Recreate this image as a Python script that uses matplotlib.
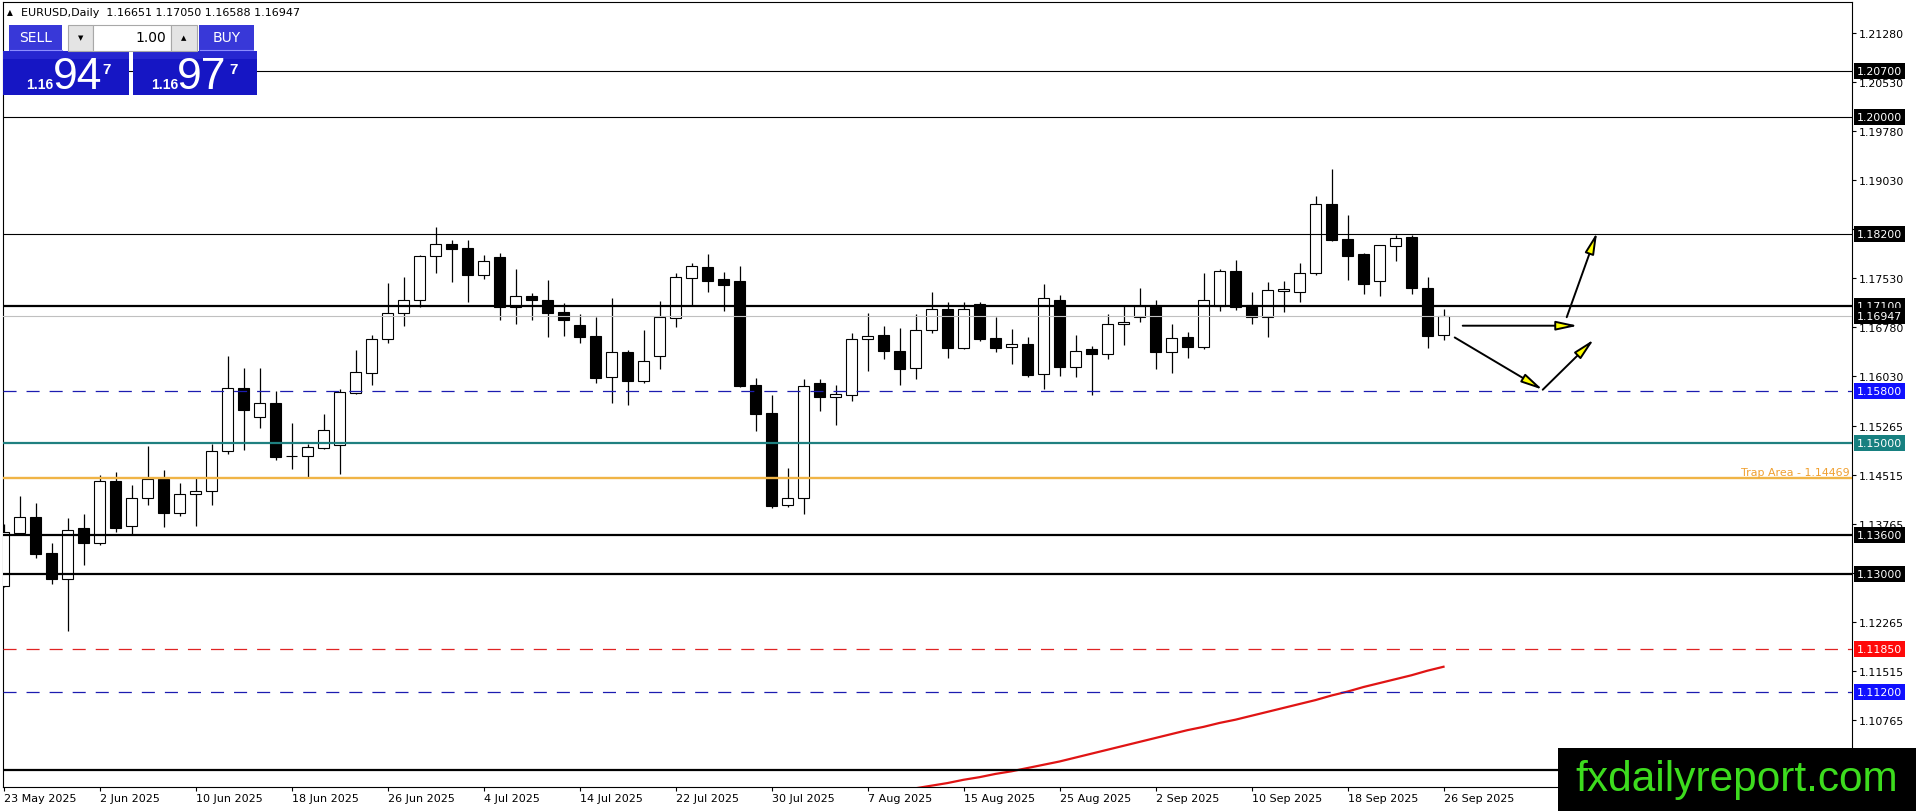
import numpy as np
import matplotlib
matplotlib.use('Agg')
import matplotlib.pyplot as plt
from matplotlib.patches import Rectangle
from matplotlib import transforms

plt.rcParams['font.family'] = 'DejaVu Sans'
plt.rcParams['lines.scale_dashes'] = False

W, H = 1916, 812

# daily candles 23 May 2025 .. 26 Sep 2025
opens = [1.1281, 1.1362, 1.1387, 1.1332, 1.1293, 1.1370, 1.1347, 1.1442, 1.1373, 1.1416,
         1.1445, 1.1394, 1.1422, 1.1427, 1.1488, 1.1585, 1.1540, 1.1562, 1.1480, 1.1480,
         1.1493, 1.1497, 1.1577, 1.1608, 1.1659, 1.1700, 1.1719, 1.1786, 1.1805, 1.1799,
         1.1757, 1.1785, 1.1708, 1.1725, 1.1719, 1.1701, 1.1681, 1.1664, 1.1601, 1.1640,
         1.1596, 1.1633, 1.1692, 1.1753, 1.1770, 1.1752, 1.1748, 1.1589, 1.1546, 1.1405,
         1.1416, 1.1592, 1.1571, 1.1574, 1.1659, 1.1666, 1.1641, 1.1615, 1.1674, 1.1705,
         1.1646, 1.1713, 1.1661, 1.1647, 1.1652, 1.1606, 1.1719, 1.1617, 1.1644, 1.1636,
         1.1682, 1.1693, 1.1710, 1.1639, 1.1663, 1.1648, 1.1710, 1.1764, 1.1711, 1.1694,
         1.1733, 1.1731, 1.1761, 1.1866, 1.1813, 1.1790, 1.1749, 1.1802, 1.1816, 1.1738,
         1.16651]
highs = [1.1376, 1.1419, 1.1409, 1.1347, 1.1386, 1.1392, 1.1451, 1.1456, 1.1436, 1.1496,
         1.1459, 1.1440, 1.1448, 1.1499, 1.1634, 1.1615, 1.1615, 1.1580, 1.1531, 1.1499,
         1.1545, 1.1583, 1.1643, 1.1666, 1.1745, 1.1755, 1.1788, 1.1831, 1.1811, 1.1811,
         1.1788, 1.1791, 1.1767, 1.1730, 1.1750, 1.1714, 1.1698, 1.1693, 1.1722, 1.1643,
         1.1674, 1.1718, 1.1761, 1.1776, 1.1790, 1.1762, 1.1771, 1.1600, 1.1574, 1.1462,
         1.1598, 1.1598, 1.1590, 1.1669, 1.1699, 1.1680, 1.1676, 1.1698, 1.1732, 1.1716,
         1.1716, 1.1716, 1.1693, 1.1675, 1.1663, 1.1744, 1.1727, 1.1666, 1.1649, 1.1698,
         1.1710, 1.1738, 1.1719, 1.1683, 1.1670, 1.1761, 1.1767, 1.1781, 1.1732, 1.1747,
         1.1748, 1.1776, 1.1879, 1.1920, 1.1849, 1.1792, 1.1803, 1.1819, 1.1819, 1.1755,
         1.17050]
lows = [1.1280, 1.1361, 1.1325, 1.1285, 1.1212, 1.1314, 1.1344, 1.1365, 1.1360, 1.1406,
        1.1372, 1.1388, 1.1374, 1.1406, 1.1483, 1.1490, 1.1524, 1.1475, 1.1461, 1.1449,
        1.1492, 1.1453, 1.1575, 1.1590, 1.1654, 1.1680, 1.1708, 1.1761, 1.1747, 1.1717,
        1.1752, 1.1688, 1.1683, 1.1689, 1.1663, 1.1665, 1.1654, 1.1593, 1.1562, 1.1558,
        1.1593, 1.1614, 1.1678, 1.1711, 1.1731, 1.1703, 1.1586, 1.1519, 1.1401, 1.1403,
        1.1392, 1.1550, 1.1528, 1.1565, 1.1611, 1.1629, 1.1590, 1.1599, 1.1669, 1.1631,
        1.1645, 1.1657, 1.1639, 1.1622, 1.1602, 1.1583, 1.1603, 1.1602, 1.1574, 1.1629,
        1.1651, 1.1686, 1.1613, 1.1608, 1.1631, 1.1645, 1.1703, 1.1704, 1.1683, 1.1662,
        1.1701, 1.1717, 1.1757, 1.1809, 1.1750, 1.1729, 1.1726, 1.1779, 1.1729, 1.1646,
        1.16588]
closes = [1.1365, 1.1387, 1.1331, 1.1293, 1.1368, 1.1348, 1.1442, 1.1371, 1.1417, 1.1445,
          1.1394, 1.1422, 1.1427, 1.1488, 1.1584, 1.1551, 1.1561, 1.1479, 1.1480, 1.1494,
          1.1521, 1.1578, 1.1609, 1.1659, 1.1700, 1.1719, 1.1786, 1.1805, 1.1798, 1.1757,
          1.1779, 1.1708, 1.1725, 1.1720, 1.1700, 1.1689, 1.1663, 1.1600, 1.1639, 1.1596,
          1.1626, 1.1693, 1.1754, 1.1771, 1.1749, 1.1743, 1.1588, 1.1545, 1.1404, 1.1416,
          1.1587, 1.1571, 1.1575, 1.1659, 1.1665, 1.1642, 1.1614, 1.1674, 1.1705, 1.1646,
          1.1705, 1.1660, 1.1646, 1.1652, 1.1605, 1.1722, 1.1617, 1.1642, 1.1637, 1.1682,
          1.1685, 1.1710, 1.1639, 1.1661, 1.1648, 1.1719, 1.1764, 1.1708, 1.1694, 1.1734,
          1.1736, 1.1760, 1.1867, 1.1811, 1.1787, 1.1744, 1.1803, 1.1814, 1.1737, 1.1665,
          1.16947]

date_labels = ['23 May 2025', '2 Jun 2025', '10 Jun 2025', '18 Jun 2025', '26 Jun 2025',
               '4 Jul 2025', '14 Jul 2025', '22 Jul 2025', '30 Jul 2025', '7 Aug 2025',
               '15 Aug 2025', '25 Aug 2025', '2 Sep 2025', '10 Sep 2025', '18 Sep 2025',
               '26 Sep 2025']

# red moving average, visible part (starts at bar 56)
ma_first_bar = 56
ma_values = [1.0969, 1.0972, 1.0976, 1.0980, 1.0985, 1.0989, 1.0994, 1.0998, 1.1003, 1.1008,
             1.1013, 1.1019, 1.1025, 1.1031, 1.1037, 1.1043, 1.1049, 1.1055, 1.1061, 1.1066,
             1.1072, 1.1077, 1.1083, 1.1089, 1.1095, 1.1101, 1.1107, 1.1114, 1.1120, 1.1127,
             1.1133, 1.1139, 1.1145, 1.1152, 1.1158]

levels = [1.2070, 1.2000, 1.1820, 1.1710, 1.1580, 1.1500, 1.14469, 1.1360, 1.1300,
          1.1185, 1.1120, 1.1000]
# the 1.10000 tag sits under the watermark in the original, so it gets no tag here
level_labels = ['1.20700', '1.20000', '1.18200', '1.17100', '1.15800', '1.15000', None,
                '1.13600', '1.13000', '1.11850', '1.11200', None]
bid_price = 1.16947
trap_text = 'Trap Area - 1.14469'

ytick_values = [1.21280, 1.20530, 1.19780, 1.19030, 1.18280, 1.17530, 1.16780, 1.16030,
                1.15265, 1.14515, 1.13765, 1.13015, 1.12265, 1.11515, 1.10765]

# arrows drawn on the chart (bar index, price)
arrow_starts = [(91.2, 1.1680), (90.7, 1.1662), (96.2, 1.1582), (97.7, 1.1693)]
arrow_ends = [(98.4, 1.1680), (96.2, 1.1582), (99.4, 1.1659), (99.6, 1.1823)]

title_text = 'EURUSD,Daily  1.16651 1.17050 1.16588 1.16947'

# styles
line_color = ['black', 'black', 'black', 'black', '#1c1cb0', '#1f8080', '#f0b446',
              'black', 'black', '#e02424', '#1c1cb0', 'black']
line_width = [0.8, 0.8, 0.8, 1.6, 0.9, 1.6, 1.7, 1.6, 1.6, 0.9, 0.9, 1.6]
line_dashed = [False, False, False, False, True, False, False, False, False, True, True, False]
box_color = ['black', 'black', 'black', 'black', '#1010ff', '#178080', None,
             'black', 'black', '#ff0a0a', '#1010ff', 'black']

fig = plt.figure(figsize=(W / 100, H / 100), dpi=100, facecolor='white')
left, right, top, bottom = 2.7, 1852, 2.7, 788.3
ax = fig.add_axes([left / W, 1 - bottom / H, (right - left) / W, (bottom - top) / H])
ax.set_facecolor('white')

n = len(opens)
x = np.arange(n)
o = np.array(opens)
c = np.array(closes)
up = c >= o
ax.vlines(x, lows, highs, color='black', lw=0.9, zorder=2)
ax.bar(x[up], (c - o)[up], bottom=o[up], width=0.66, facecolor='white',
       edgecolor='black', lw=0.8, zorder=3)
ax.bar(x[~up], (o - c)[~up], bottom=c[~up], width=0.66, facecolor='black',
       edgecolor='black', lw=0.8, zorder=3)

ma_x = np.arange(ma_first_bar, ma_first_bar + len(ma_values))
ax.plot(ma_x, ma_values, color='#e01414', lw=1.6, zorder=4)

for i, p in enumerate(levels):
    ls = (0, (9.4, 7.2)) if line_dashed[i] else '-'
    ax.axhline(p, color=line_color[i], lw=line_width[i], ls=ls, zorder=4)
ax.axhline(bid_price, color='#c0c0c0', lw=0.8, zorder=3.5)

for s, e in zip(arrow_starts, arrow_ends):
    ax.annotate('', xy=e, xytext=s,
                arrowprops=dict(arrowstyle='-|>,head_length=1.3,head_width=0.28',
                                fc='#ffff00', ec='black', lw=1.4,
                                shrinkA=0, shrinkB=0), zorder=5)

ax.set_xlim(-0.05, 115.53)
ax.set_ylim(1.09735, 1.21759)

for sp in ax.spines.values():
    sp.set_linewidth(0.8)
    sp.set_color('black')

ax.set_xticks(np.arange(0, 6 * len(date_labels), 6))
ax.set_xticklabels(date_labels, ha='left', fontsize=8)
ax.tick_params(axis='x', direction='out', length=3, width=0.8, pad=1.2)

ax.yaxis.tick_right()
ax.set_yticks(ytick_values)
ax.set_yticklabels(['%.5f' % v for v in ytick_values])
ax.tick_params(axis='y', direction='out', length=3, width=0.8, pad=2.2, labelsize=7.9,
               left=False, labelleft=False)

lab_tr = transforms.blended_transform_factory(ax.transAxes, ax.transData) + \
    transforms.ScaledTranslation(5 / 100, 0, fig.dpi_scale_trans)
for i, p in enumerate(levels):
    if level_labels[i] is None:
        continue
    ax.text(1.0, p, level_labels[i], transform=lab_tr, ha='left', va='center',
            fontsize=7.9, color='white', zorder=6, clip_on=False,
            bbox=dict(boxstyle='square,pad=0.28', fc=box_color[i], ec='none'))
ax.text(1.0, bid_price, '%.5f' % bid_price, transform=lab_tr, ha='left', va='center',
        fontsize=7.9, color='white', zorder=6, clip_on=False,
        bbox=dict(boxstyle='square,pad=0.28', fc='black', ec='none'))

trap_tr = transforms.blended_transform_factory(ax.transAxes, ax.transData) + \
    transforms.ScaledTranslation(-2 / 100, 3 / 100, fig.dpi_scale_trans)
ax.text(1.0, levels[6], trap_text, transform=trap_tr, ha='right', va='baseline',
        fontsize=7.9, color='#f0a030', zorder=6)

# overlay in pixel coords for title, trade panel and watermark
ov = fig.add_axes([0, 0, 1, 1])
ov.set_xlim(0, W)
ov.set_ylim(H, 0)
ov.axis('off')
ov.patch.set_visible(False)

ov.text(7, 13, '\u25b2', fontsize=5.5, va='center', ha='left', color='black')
ov.text(21.5, 13, title_text, fontsize=8, va='center', ha='left', color='black')

def rect(x0, y0, x1, y1, fc, ec='none', lw=0):
    ov.add_patch(Rectangle((x0, y0), x1 - x0, y1 - y0, fc=fc, ec=ec, lw=lw))

blue_hdr = '#3838d8'
blue_box = '#1616c4'
rect(9.3, 25.7, 62.3, 51.5, blue_hdr)
rect(199.3, 25.7, 254, 51.5, blue_hdr)
ov.plot([10, 62], [50.8, 50.8], color='#8c8cff', lw=0.8)
ov.plot([200, 253], [50.8, 50.8], color='#8c8cff', lw=0.8)
rect(2.7, 52.3, 129.3, 95.5, blue_box)
rect(133.3, 52.3, 257.3, 95.5, blue_box)
rect(2.7, 52.3, 129.3, 60, '#2626d0')
rect(133.3, 52.3, 257.3, 60, '#2626d0')
rect(67.7, 25.7, 92.7, 51.7, '#e4e4e4', ec='#a8a8a8', lw=0.8)
rect(92.7, 25.7, 170.7, 51.7, 'white', ec='#a8a8a8', lw=0.8)
rect(170.7, 25.7, 197.3, 51.7, '#e4e4e4', ec='#a8a8a8', lw=0.8)
ov.text(80.2, 38.5, '\u25bc', fontsize=5, ha='center', va='center', color='black')
ov.text(184, 38.5, '\u25b2', fontsize=5, ha='center', va='center', color='black')
ov.text(166, 38.5, '1.00', fontsize=10, ha='right', va='center', color='black')
ov.text(35.5, 38.5, 'SELL', fontsize=10, ha='center', va='center', color='white')
ov.text(226.5, 38.5, 'BUY', fontsize=10, ha='center', va='center', color='white')

big = dict(family='Liberation Sans', color='white', va='baseline', ha='left')
ov.text(26, 89, '1.16', fontsize=10, fontweight='bold', **big)
ov.text(53, 89, '94', fontsize=32, **big)
ov.text(102.5, 74, '7', fontsize=11, fontweight='bold', **big)
ov.text(151, 89, '1.16', fontsize=10, fontweight='bold', **big)
ov.text(176.5, 89, '97', fontsize=32, **big)
ov.text(229.5, 74, '7', fontsize=11, fontweight='bold', **big)

rect(1558, 749, W, H, 'black')
ov.text(1737, 791.5, 'fxdailyreport.com', family='Liberation Sans', fontsize=30.5,
        color='#3ddc1e', ha='center', va='baseline')

fig.savefig('out.png', dpi=100, facecolor='white')
